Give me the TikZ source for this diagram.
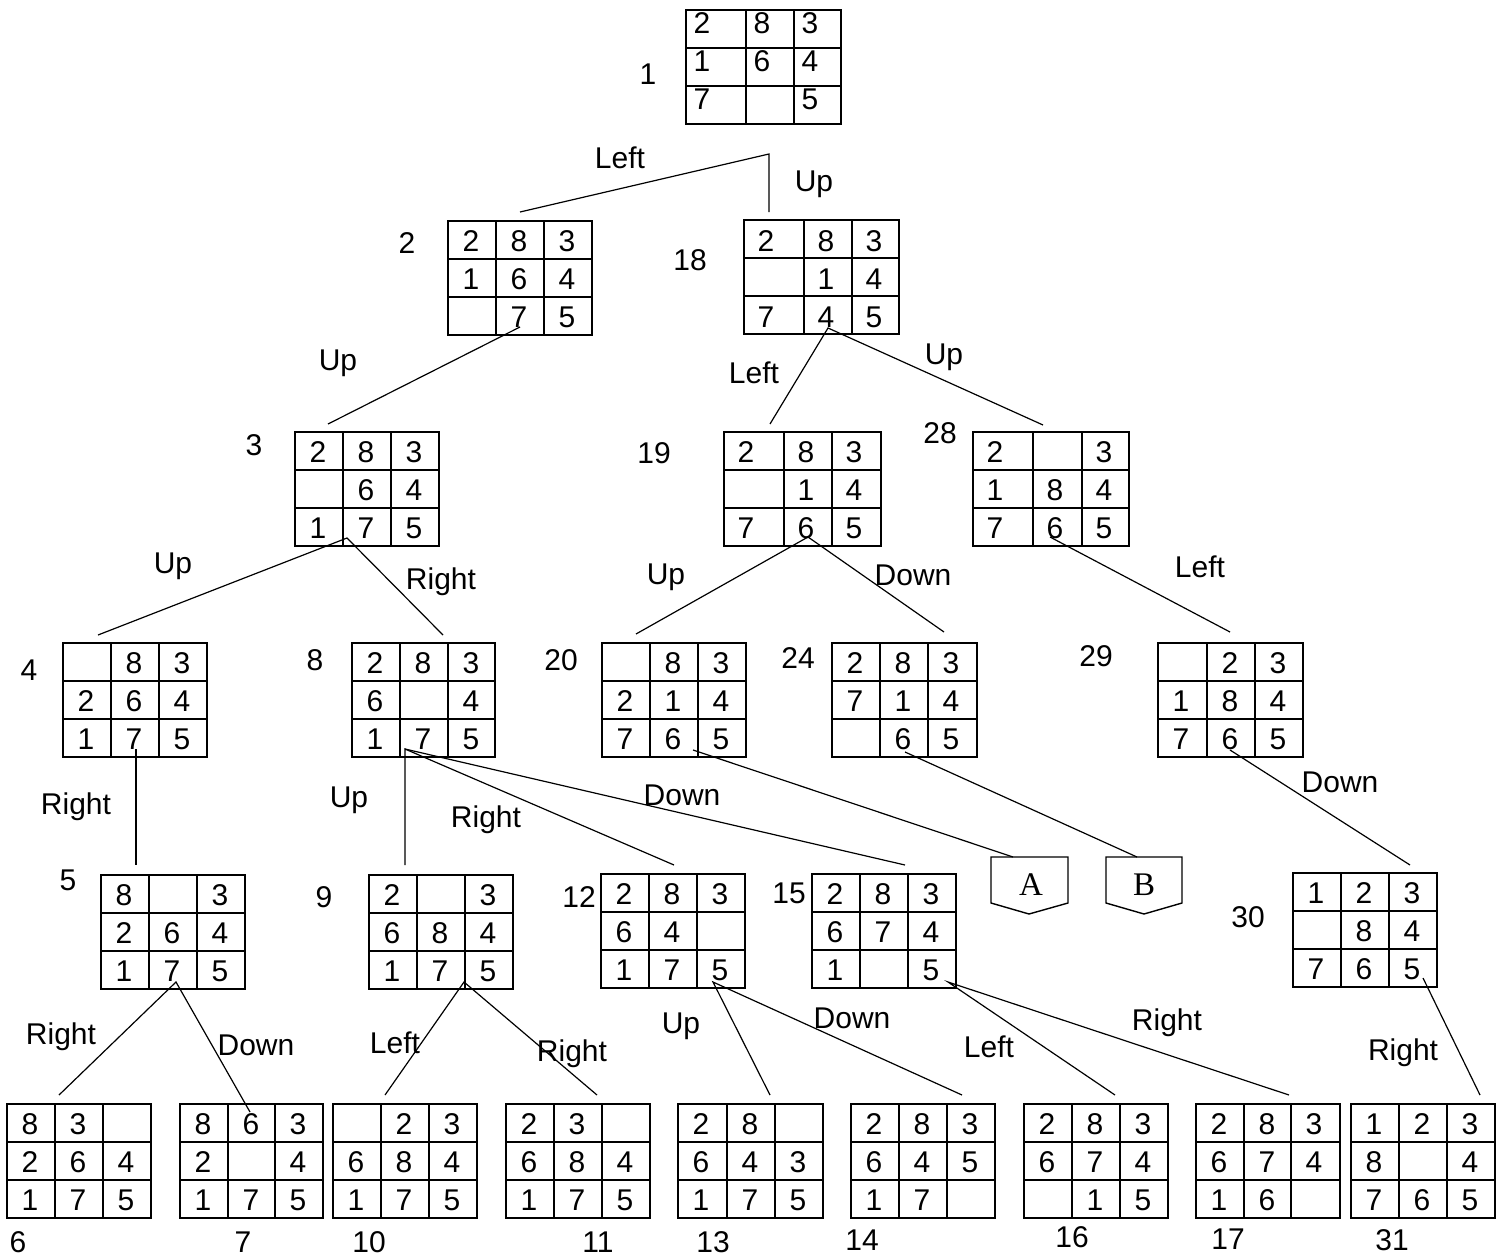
\documentclass[tikz,border=0pt]{standalone}
\usepackage{fontspec}
\setmainfont{Liberation Sans}
\newfontfamily\serifabfont{Liberation Serif}
\usetikzlibrary{calc}
\newcommand{\digitfont}{\fontsize{30}{32}\selectfont}
\newcommand{\puzzle}[9]{%
  \node[boardbox, minimum width={#4+#5+#6}, minimum height=114] (#1) at (#2,#3) {};
  \draw[gridline] (#2+#4,#3) -- (#2+#4,#3+114);
  \draw[gridline] (#2+#4+#5,#3) -- (#2+#4+#5,#3+114);
  \draw[gridline] (#2,#3+38) -- (#2+#4+#5+#6,#3+38);
  \draw[gridline] (#2,#3+76) -- (#2+#4+#5+#6,#3+76);
  \foreach \v [count=\k from 0] in {#9} {%
    \pgfmathtruncatemacro\prow{\k/3}%
    \pgfmathtruncatemacro\pcol{mod(\k,3)}%
    \pgfmathsetmacro\xx{#2+#7+(\pcol>0)*#4+(\pcol>1)*#5}%
    \pgfmathsetmacro\yy{#3+#8+38*\prow}%
    \node[digit] at (\xx,\yy) {\v};
  }%
}
\tikzset{
  boardbox/.style={draw, line width=1.7, inner sep=0, outer sep=0, anchor=north west},
  gridline/.style={line width=1.7},
  digit/.style={font=\digitfont, inner sep=0},
  lbl/.style={font=\digitfont, inner sep=0},
  edge/.style={line width=1.2},
  leaf/.style={line width=1.4},
  leaftext/.style={font=\serifabfont\fontsize{33}{35}\selectfont, inner sep=0}
}
\begin{document}
\begin{tikzpicture}[x=1pt,y=-1pt]
\useasboundingbox (0,0) rectangle (1506,1258);
% boards
\puzzle{b1}{686}{10}{60}{48}{47}{16}{13}{2,8,3,1,6,4,7,{},5}
\puzzle{b2}{448}{221}{48}{48}{48}{23}{20}{2,8,3,1,6,4,{},7,5}
\puzzle{b18}{744}{220}{60}{48}{47}{22}{21}{2,8,3,{},1,4,7,4,5}
\puzzle{b3}{295}{432}{48}{48}{48}{23}{20}{2,8,3,{},6,4,1,7,5}
\puzzle{b19}{724}{432}{60}{48}{49}{22}{20}{2,8,3,{},1,4,7,6,5}
\puzzle{b28}{973}{432}{60}{49}{47}{22}{20}{2,{},3,1,8,4,7,6,5}
\puzzle{b4}{63}{643}{48}{48}{48}{23}{20}{{},8,3,2,6,4,1,7,5}
\puzzle{b8}{352}{643}{48}{48}{47}{23}{20}{2,8,3,6,{},4,1,7,5}
\puzzle{b20}{602}{643}{48}{48}{48}{23}{20}{{},8,3,2,1,4,7,6,5}
\puzzle{b24}{832}{643}{48}{48}{49}{23}{20}{2,8,3,7,1,4,{},6,5}
\puzzle{b29}{1158}{643}{49}{48}{48}{23}{20}{{},2,3,1,8,4,7,6,5}
\puzzle{b5}{101}{875}{48}{48}{48}{23}{20}{8,{},3,2,6,4,1,7,5}
\puzzle{b9}{369}{875}{48}{48}{48}{23}{20}{2,{},3,6,8,4,1,7,5}
\puzzle{b12}{601}{874}{48}{48}{48}{23}{20}{2,8,3,6,4,{},1,7,5}
\puzzle{b15}{812}{874}{48}{48}{48}{23}{20}{2,8,3,6,7,4,1,{},5}
\puzzle{b30}{1293}{873}{48}{48}{48}{23}{20}{1,2,3,{},8,4,7,6,5}
\puzzle{b6}{7}{1104}{48}{48}{48}{23}{20}{8,3,{},2,6,4,1,7,5}
\puzzle{b7}{180}{1104}{48}{47}{48}{23}{20}{8,6,3,2,{},4,1,7,5}
\puzzle{b10}{333}{1104}{48}{48}{48}{23}{20}{{},2,3,6,8,4,1,7,5}
\puzzle{b11}{506}{1104}{48}{48}{48}{23}{20}{2,3,{},6,8,4,1,7,5}
\puzzle{b13}{678}{1104}{49}{48}{48}{23}{20}{2,8,{},6,4,3,1,7,5}
\puzzle{b14}{851}{1104}{48}{48}{48}{23}{20}{2,8,3,6,4,5,1,7,{}}
\puzzle{b16}{1024}{1104}{48}{48}{48}{23}{20}{2,8,3,6,7,4,{},1,5}
\puzzle{b17}{1196}{1104}{48}{47}{49}{23}{20}{2,8,3,6,7,4,1,6,{}}
\puzzle{b31}{1351}{1104}{48}{48}{48}{23}{20}{1,2,3,8,{},4,7,6,5}
% board numbers
\node[lbl] (n1) at (648,74) {1};
\node[lbl] (n2) at (407,243) {2};
\node[lbl] (n18) at (690,260) {18};
\node[lbl] (n3) at (254,445) {3};
\node[lbl] (n19) at (654,453) {19};
\node[lbl] (n28) at (940,433) {28};
\node[lbl] (n4) at (29,670) {4};
\node[lbl] (n8) at (315,660) {8};
\node[lbl] (n20) at (561,660) {20};
\node[lbl] (n24) at (798,658) {24};
\node[lbl] (n29) at (1096,656) {29};
\node[lbl] (n5) at (68,880) {5};
\node[lbl] (n9) at (324,897) {9};
\node[lbl] (n12) at (579,897) {12};
\node[lbl] (n15) at (789,893) {15};
\node[lbl] (n30) at (1248,917) {30};
\node[lbl] (n6) at (18,1242) {6};
\node[lbl] (n7) at (243,1242) {7};
\node[lbl] (n10) at (369,1242) {10};
\node[lbl] (n11) at (598,1242) {11};
\node[lbl] (n13) at (713,1242) {13};
\node[lbl] (n14) at (862,1240) {14};
\node[lbl] (n16) at (1072,1237) {16};
\node[lbl] (n17) at (1228,1239) {17};
\node[lbl] (n31) at (1392,1240) {31};
% A and B continuation markers
\draw[leaf] (991,857) -- (1068,857) -- (1068,903) -- (1029,914) -- (991,903) -- cycle;
\node[leaftext] (A) at (1031,885) {A};
\draw[leaf] (1106,857) -- (1182,857) -- (1182,903) -- (1144,914) -- (1106,903) -- cycle;
\node[leaftext] (B) at (1144,885) {B};
% connector points
\coordinate (o1) at (769,154);
\coordinate (i2) at (520,212);
\coordinate (i18) at (769,212);
\coordinate (o2) at (520,327);
\coordinate (i3) at (328,424);
\coordinate (o18) at (828,328);
\coordinate (i19) at (770,424);
\coordinate (i28) at (1043,425);
\coordinate (o3) at (347,538);
\coordinate (i4) at (98,635);
\coordinate (i8) at (443,635);
\coordinate (o19) at (808,537);
\coordinate (i20) at (636,634);
\coordinate (i24) at (944,632);
\coordinate (o28) at (1050,537);
\coordinate (i29) at (1230,632);
\coordinate (o4) at (136,749);
\coordinate (i5) at (136,865);
\coordinate (o8) at (405,749);
\coordinate (i9) at (405,865);
\coordinate (i12) at (674,865);
\coordinate (i15) at (905,865);
\coordinate (o20) at (693,750);
\coordinate (iA) at (1013,857);
\coordinate (o24) at (905,752);
\coordinate (iB) at (1137,857);
\coordinate (o29) at (1230,750);
\coordinate (i30) at (1410,865);
\coordinate (o5) at (176,982);
\coordinate (i6) at (59,1095);
\coordinate (i7) at (250,1112);
\coordinate (o9) at (464,982);
\coordinate (i10) at (385,1095);
\coordinate (i11) at (597,1095);
\coordinate (o12) at (713,982);
\coordinate (i13) at (770,1095);
\coordinate (i14) at (962,1095);
\coordinate (o15) at (948,982);
\coordinate (i16) at (1115,1095);
\coordinate (i17) at (1289,1095);
\coordinate (o30) at (1423,978);
\coordinate (i31) at (1480,1095);
% connectors
\draw[edge] (i2) -- (o1) -- (i18);
\draw[edge] (o2) -- (i3);
\draw[edge] (i19) -- (o18) -- (i28);
\draw[edge] (i4) -- (o3) -- (i8);
\draw[edge] (i20) -- (o19) -- (i24);
\draw[edge] (o28) -- (i29);
\draw[edge] (o4) -- (i5);
\draw[edge] (i9) -- (o8) -- (i12);
\draw[edge] (o8) -- (i15);
\draw[edge] (o20) -- (iA);
\draw[edge] (o24) -- (iB);
\draw[edge] (o29) -- (i30);
\draw[edge] (i6) -- (o5) -- (i7);
\draw[edge] (i10) -- (o9) -- (i11);
\draw[edge] (i13) -- (o12) -- (i14);
\draw[edge] (i16) -- (o15) -- (i17);
\draw[edge] (o30) -- (i31);
% edge labels
\node[lbl] (l1) at (620,158) {Left};
\node[lbl] (l2) at (814,184) {Up};
\node[lbl] (l3) at (338,363) {Up};
\node[lbl] (l4) at (754,373) {Left};
\node[lbl] (l5) at (944,357) {Up};
\node[lbl] (l6) at (173,566) {Up};
\node[lbl] (l7) at (441,582) {Right};
\node[lbl] (l8) at (666,577) {Up};
\node[lbl] (l9) at (913,575) {Down};
\node[lbl] (l10) at (1200,567) {Left};
\node[lbl] (l11) at (76,807) {Right};
\node[lbl] (l12) at (349,800) {Up};
\node[lbl] (l13) at (486,820) {Right};
\node[lbl] (l14) at (682,795) {Down};
\node[lbl] (l15) at (1340,782) {Down};
\node[lbl] (l16) at (61,1037) {Right};
\node[lbl] (l17) at (256,1045) {Down};
\node[lbl] (l18) at (395,1043) {Left};
\node[lbl] (l19) at (572,1054) {Right};
\node[lbl] (l20) at (681,1026) {Up};
\node[lbl] (l21) at (852,1018) {Down};
\node[lbl] (l22) at (989,1047) {Left};
\node[lbl] (l23) at (1167,1023) {Right};
\node[lbl] (l24) at (1403,1053) {Right};
\end{tikzpicture}
\end{document}
